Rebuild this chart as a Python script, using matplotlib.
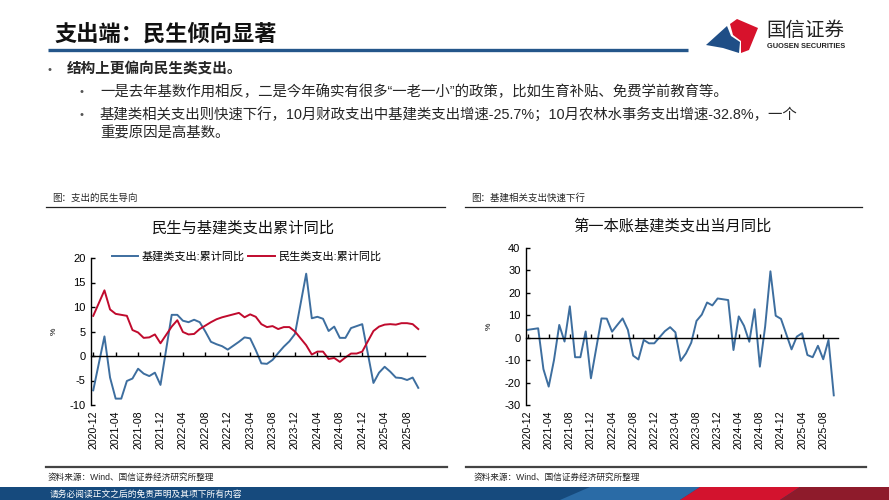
import matplotlib
matplotlib.use("Agg")
import matplotlib.pyplot as plt
from matplotlib.patches import Polygon, Rectangle

plt.rcParams['font.family'] = ['Liberation Sans', 'Noto Sans CJK SC', 'DejaVu Sans']
plt.rcParams['axes.unicode_minus'] = False

# months (January is merged into February in the fiscal data)
months = ['2020-12',
          '2021-02', '2021-03', '2021-04', '2021-05', '2021-06', '2021-07', '2021-08', '2021-09', '2021-10', '2021-11', '2021-12',
          '2022-02', '2022-03', '2022-04', '2022-05', '2022-06', '2022-07', '2022-08', '2022-09', '2022-10', '2022-11', '2022-12',
          '2023-02', '2023-03', '2023-04', '2023-05', '2023-06', '2023-07', '2023-08', '2023-09', '2023-10', '2023-11', '2023-12',
          '2024-02', '2024-03', '2024-04', '2024-05', '2024-06', '2024-07', '2024-08', '2024-09', '2024-10', '2024-11', '2024-12',
          '2025-02', '2025-03', '2025-04', '2025-05', '2025-06', '2025-07', '2025-08', '2025-09', '2025-10']

# 基建类支出:累计同比
infra_cum = [-7.0,
             4.0, -4.4, -8.7, -8.7, -5.1, -4.6, -2.6, -3.6, -4.1, -3.4, -5.9,
             8.4, 8.4, 7.2, 6.9, 7.4, 6.9, 5.0, 2.9, 2.4, 2.0, 1.3,
             2.9, 3.8, 3.6, 1.2, -1.5, -1.6, -0.8, 0.6, 1.9, 3.0, 4.5,
             16.8, 7.7, 8.0, 7.6, 5.1, 6.0, 3.7, 3.7, 5.7, 6.1, 6.5,
             -5.5, -3.4, -2.2, -3.2, -4.4, -4.5, -4.9, -4.4, -6.5]
# 民生类支出:累计同比
welfare_cum = [8.2,
               13.4, 9.5, 8.6, 8.4, 8.2, 5.3, 4.8, 3.7, 3.8, 4.4, 2.6,
               6.0, 7.3, 4.9, 4.4, 4.5, 5.5, 6.2, 6.9, 7.5, 7.9, 8.2,
               8.8, 7.9, 8.5, 8.0, 6.5, 5.9, 6.1, 5.5, 5.9, 5.9, 5.0,
               2.2, 0.3, 0.9, 0.9, -0.6, -0.4, -1.2, -0.3, 0.5, 0.5, 0.9,
               5.1, 6.0, 6.4, 6.5, 6.4, 6.7, 6.7, 6.5, 5.5]
# 第一本账基建类支出当月同比
infra_month = [3.5,
               4.2, -14.0, -21.8, -10.0, 5.7, -1.7, 14.0, -8.7, -8.7, 2.8, -18.1,
               8.6, 8.5, 2.7, 5.7, 8.6, 3.5, -8.0, -9.7, -1.0, -2.5, -2.5,
               2.9, 4.7, 2.4, -10.3, -7.0, -2.2, 7.5, 10.3, 15.7, 14.4, 17.5,
               16.8, -5.5, 9.5, 5.3, -1.8, 12.7, -12.9, 5.0, 29.6, 9.8, 8.4,
               -5.2, 0.5, 2.0, -7.7, -8.7, -3.6, -9.6, -1.0, -25.7]

tick_labels = ['2020-12', '2021-04', '2021-08', '2021-12', '2022-04', '2022-08', '2022-12',
               '2023-04', '2023-08', '2023-12', '2024-04', '2024-08', '2024-12', '2025-04', '2025-08']


def month_index(s):
    y, m = s.split('-')
    return (int(y) - 2020) * 12 + int(m) - 12


x = [month_index(m) for m in months]
xt = [month_index(m) for m in tick_labels]

BLUE = '#3D6E9F'
RED = '#C00A2D'
TXT = '#262626'

fig = plt.figure(figsize=(8.89, 5.0), dpi=100)

# background layer in pixel coordinates
bg = fig.add_axes([0, 0, 1, 1])
bg.set_xlim(0, 889)
bg.set_ylim(500, 0)
bg.axis('off')

bg.text(54, 35, '支出端：民生倾向显著', fontsize=16, fontweight='bold', color='#111111',
        va='center', ha='left')
bg.plot([48, 688], [50, 50], color='#24568A', lw=2.4, solid_capstyle='butt')

# logo
bg.add_patch(Polygon([(706, 45), (727, 26), (731, 36), (740, 42), (739, 53), (723, 48)],
                     closed=True, color='#1F4E86', lw=0))
bg.add_patch(Polygon([(730, 24), (737, 19), (758, 28), (749, 50), (741, 53), (741, 41), (733, 35)],
                     closed=True, color='#D7122C', lw=0))
bg.text(766, 31, '国信证券', fontsize=14, color='#222222', va='center', ha='left')
bg.text(767, 47, 'GUOSEN SECURITIES', fontsize=5.3, fontweight='bold', color='#222222',
        va='center', ha='left')

# bullets
bg.text(47, 70, '•', fontsize=8, color='#555555', va='center', ha='left')
bg.text(67, 70, '结构上更偏向民生类支出。', fontsize=10.5, fontweight='bold', color=TXT,
        va='center', ha='left')
bg.text(80, 92, '•', fontsize=8, color='#555555', va='center', ha='left')
bg.text(100, 92, '一是去年基数作用相反，二是今年确实有很多“一老一小”的政策，比如生育补贴、免费学前教育等。',
        fontsize=10.4, color=TXT, va='center', ha='left')
bg.text(80, 115, '•', fontsize=8, color='#555555', va='center', ha='left')
bg.text(100, 115, '基建类相关支出则快速下行，10月财政支出中基建类支出增速-25.7%；10月农林水事务支出增速-32.8%，一个',
        fontsize=10.4, color=TXT, va='center', ha='left')
bg.text(100, 134, '重要原因是高基数。', fontsize=10.4, color=TXT, va='center', ha='left')

# captions and separators
bg.text(52, 198, '图：支出的民生导向', fontsize=6.8, color=TXT, va='center', ha='left')
bg.plot([46, 445], [207, 207], color='#222222', lw=0.9)
bg.text(471, 198, '图：基建相关支出快速下行', fontsize=6.8, color=TXT, va='center', ha='left')
bg.plot([465, 862], [207, 207], color='#222222', lw=0.9)

bg.plot([46, 447], [467, 467], color='#444444', lw=1.6)
bg.text(48, 477, '资料来源：Wind、国信证券经济研究所整理', fontsize=6.2, color=TXT, va='center', ha='left')
bg.plot([466, 866], [467, 467], color='#444444', lw=1.6)
bg.text(474, 477, '资料来源：Wind、国信证券经济研究所整理', fontsize=6.2, color=TXT, va='center', ha='left')

# footer bar
bg.add_patch(Rectangle((0, 487), 889, 13, color='#164A7D', lw=0))
bg.add_patch(Polygon([(560, 500), (590, 487), (700, 487), (680, 500)], closed=True, color='#2A6BA6', lw=0))
bg.add_patch(Polygon([(680, 500), (700, 487), (800, 487), (780, 500)], closed=True, color='#D3132E', lw=0))
bg.add_patch(Polygon([(780, 500), (800, 487), (889, 487), (889, 500)], closed=True, color='#8E1B2B', lw=0))
bg.text(50, 494, '请务必阅读正文之后的免责声明及其项下所有内容', fontsize=6.3, color='white',
        va='center', ha='left')

# chart titles
bg.text(243, 228, '民生与基建类支出累计同比', fontsize=11, color='#111111', va='center', ha='center')
bg.text(672, 226, '第一本账基建类支出当月同比', fontsize=11, color='#111111', va='center', ha='center')


def style_axes(ax, ylo, yhi, ystep, xlo, xhi):
    ax.set_xlim(xlo, xhi)
    ax.set_ylim(ylo, yhi)
    ax.set_yticks(range(ylo, yhi + 1, ystep))
    for s in ['top', 'right']:
        ax.spines[s].set_visible(False)
    ax.spines['bottom'].set_position(('data', 0))
    ax.spines['bottom'].set_linewidth(1.0)
    ax.spines['left'].set_linewidth(1.0)
    ax.set_xticks(xt)
    ax.tick_params(axis='x', direction='in', length=3, width=1, labelbottom=False)
    ax.tick_params(axis='y', direction='in', length=3, width=1, labelsize=8, pad=4)
    ax.patch.set_alpha(0)
    sec = ax.secondary_xaxis('bottom')
    sec.set_xticks(xt)
    sec.set_xticklabels(tick_labels, rotation=90, fontsize=7.6)
    sec.spines['bottom'].set_visible(False)
    sec.tick_params(length=0, pad=4)
    ax.set_ylabel('%', fontsize=6, labelpad=8)


# left chart
ax1 = fig.add_axes([91 / 889, 95 / 500, 334 / 889, 147 / 500])
ax1.plot(x, infra_cum, color=BLUE, lw=1.4, label='基建类支出:累计同比')
ax1.plot(x, welfare_cum, color=RED, lw=1.4, label='民生类支出:累计同比')
style_axes(ax1, -10, 20, 5, -0.4, 59.2)
ax1.legend(loc='center left', bbox_to_anchor=(106 / 889, 243 / 500), bbox_transform=fig.transFigure,
           ncol=2, frameon=False, fontsize=8, borderpad=0, handlelength=2.4, handletextpad=0.3,
           columnspacing=0.3)

# right chart
ax2 = fig.add_axes([526 / 889, 95 / 500, 312 / 889, 157 / 500])
ax2.plot(x, infra_month, color=BLUE, lw=1.4)
style_axes(ax2, -30, 40, 10, -0.3, 58.8)

fig.savefig('out.png', dpi=100)
